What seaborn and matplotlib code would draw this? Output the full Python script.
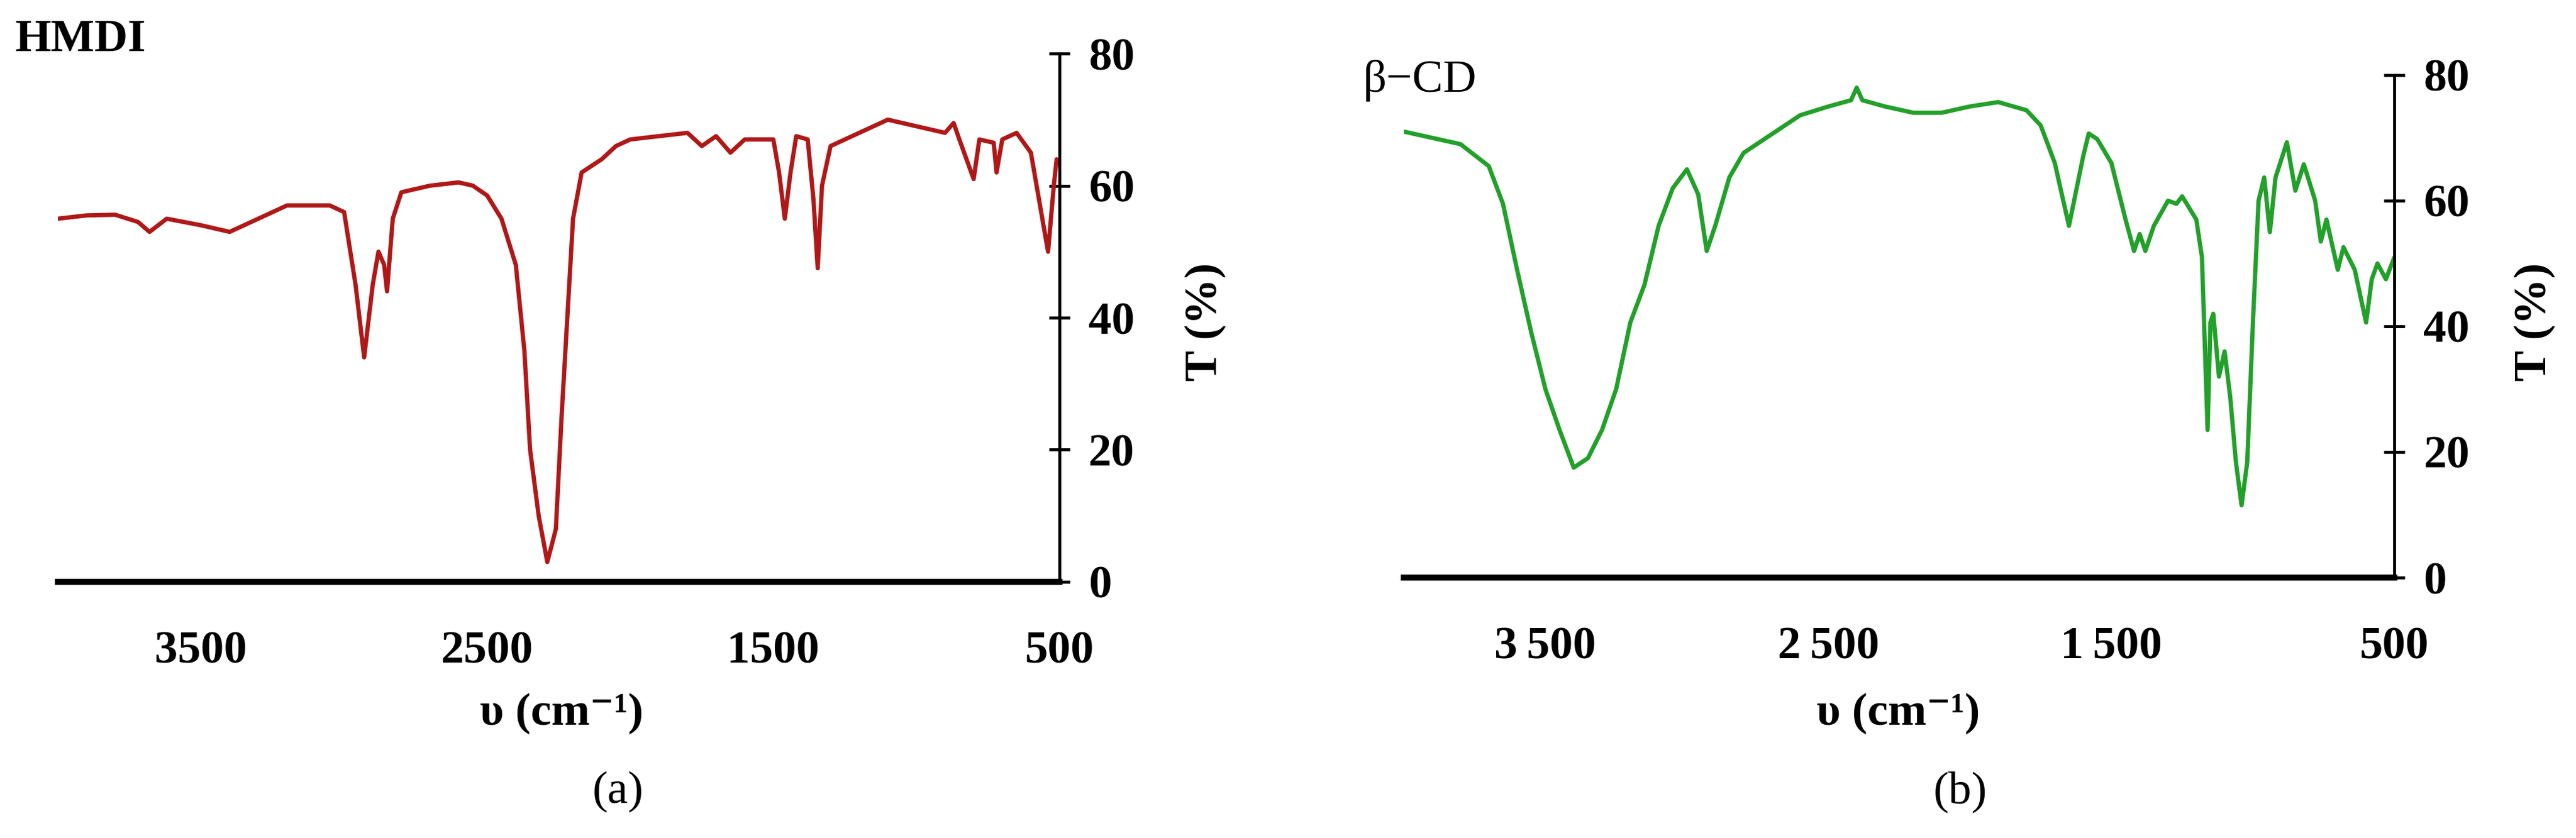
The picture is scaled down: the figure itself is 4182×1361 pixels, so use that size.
import matplotlib
matplotlib.use("Agg")
import matplotlib.pyplot as plt
import seaborn as sns
import pandas as pd

hmdi_wn = [4000,3900,3800,3720,3680,3620,3500,3400,3300,3200,3050,3000,2960,2930,2900,2880,2860,2850,2830,2800,2700,2600,2550,2500,2450,2400,2370,2350,2320,2290,2260,2240,2220,2200,2170,2100,2050,2000,1800,1750,1700,1650,1600,1500,1480,1460,1440,1420,1380,1360,1345,1330,1300,1200,1100,1000,900,870,850,800,780,730,720,700,650,600,560,540,520,510,500]
hmdi_t = [55,55.5,55.6,54.5,53,55,54,53,55,57,57,56,45,34,45,50,48,44,55,59,60,60.5,60,58.5,55,48,35,20,10,3,8,25,40,55,62,64,66,67,68,66,67.5,65,67,67,62,55,62,67.5,67,58,47.5,60,66,68,70,69,68,69.5,67,61,67,66.5,62,67,68,65,55,50,60,64,63.5]

cd_wn = [4000,3900,3800,3700,3650,3600,3550,3500,3450,3400,3350,3300,3250,3200,3150,3100,3050,3000,2960,2930,2900,2850,2800,2700,2600,2500,2420,2400,2380,2300,2200,2100,2000,1900,1800,1750,1700,1650,1600,1580,1550,1500,1450,1420,1400,1380,1350,1300,1270,1250,1200,1180,1160,1150,1140,1120,1100,1080,1060,1040,1020,1000,980,960,940,920,880,850,820,780,760,740,700,680,640,600,580,560,530,500]
cd_t = [71,70,69,65.5,59.5,49,39,30,23.5,17.5,19,23.5,30,40.6,46.6,56,62,65,61,52,56,63.7,67.6,70.6,73.6,75,76,78,76,75,74,74,75,75.7,74.4,72,66,56,67,70.7,69.8,66,57,52,54.7,52,56,60,59.5,60.7,57,51,23.5,40.6,42,32,36,28.7,18.4,11.5,18.4,40.6,60,63.7,55,63.7,69.3,61.6,65.8,60,53.5,57,49,52.6,49,40.6,47.5,50,47.5,51]

xticks = [3500, 2500, 1500, 500]
yticks = [0, 20, 40, 60, 80]

sns.set_style("white")
FONT = ["Liberation Serif", "DejaVu Serif"]
plt.rcParams["font.family"] = FONT
plt.rcParams["text.color"] = "black"

fig = plt.figure(figsize=(41.82, 13.61), dpi=100)
axa = fig.add_axes([0.0225, 0.3057, 0.3888, 0.6303])
axb = fig.add_axes([0.545, 0.3108, 0.3845, 0.5996])

def style(ax, df, color, xtl):
    sns.lineplot(data=df, x="wn", y="t", ax=ax, color=color, linewidth=5, sort=False)
    ax.set_xlim(4000, 500)
    ax.set_ylim(0, 80)
    ax.set_xticks(xticks)
    ax.set_xticklabels(xtl)
    ax.set_yticks(yticks)
    ax.yaxis.tick_right()
    for s in ["top", "left"]:
        ax.spines[s].set_visible(False)
    ax.spines["bottom"].set_linewidth(7)
    ax.spines["right"].set_linewidth(3.5)
    ax.spines["bottom"].set_color("black")
    ax.spines["right"].set_color("black")
    ax.tick_params(axis="x", direction="inout", length=24, width=3.5, labelsize=54, pad=45, colors="black")
    ax.tick_params(axis="y", direction="inout", length=24, width=3.5, labelsize=54, pad=22, colors="black", right=True, left=False)
    for l in ax.get_xticklabels() + ax.get_yticklabels():
        l.set_fontweight("bold")
    ax.set_xlabel("")
    ax.set_ylabel("")

style(axa, pd.DataFrame({"wn": hmdi_wn, "t": hmdi_t}), "#b01818", ["3500", "2500", "1500", "500"])
style(axb, pd.DataFrame({"wn": cd_wn, "t": cd_t}), "#22a02a", ["3\u2009500", "2\u2009500", "1\u2009500", "500"])

fs = 54
fig.text(0.006, 0.952, "HMDI", fontsize=fs, fontweight="bold", ha="left", va="center")
fig.text(0.529, 0.904, "\u03b2\u2212CD", fontsize=fs, ha="left", va="center")
fig.text(0.218, 0.148, "\u03c5 (cm\u207b\u00b9)", fontsize=fs, fontweight="bold", ha="center", va="center")
fig.text(0.737, 0.148, "\u03c5 (cm\u207b\u00b9)", fontsize=fs, fontweight="bold", ha="center", va="center")
fig.text(0.468, 0.616, "T (%)", fontsize=fs, fontweight="bold", rotation=90, ha="center", va="center")
fig.text(0.984, 0.616, "T (%)", fontsize=fs, fontweight="bold", rotation=90, ha="center", va="center")
fig.text(0.240, 0.055, "(a)", fontsize=fs, ha="center", va="center")
fig.text(0.761, 0.055, "(b)", fontsize=fs, ha="center", va="center")

fig.savefig("out.png", dpi=100)
